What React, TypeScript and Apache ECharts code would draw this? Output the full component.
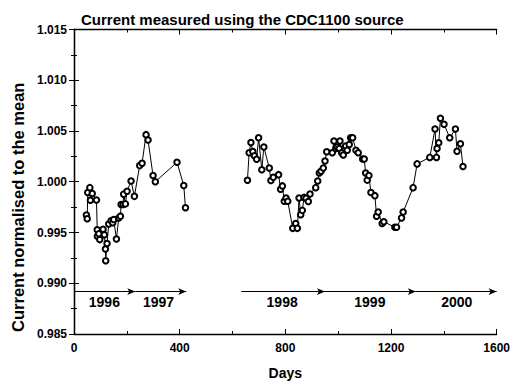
import React, { useEffect, useRef } from "react";
import * as echarts from "echarts";

const titleText = "Current measured using the CDC1100 source";
const xTitle = "Days";
const yTitle = "Current normalised to the mean";

const days9697 = [47, 50, 52, 60, 62, 69, 85, 88, 88.5, 94, 97.5, 110, 115, 119, 120, 125, 131.5, 140.5, 146.6, 150.4, 160.6, 169.3, 175.7, 178.3, 186, 188, 194.6, 201, 216, 228.6, 248.6, 257.7, 272.8, 280.3, 299.2, 307.9, 389.9, 415.6, 422];
const vals9697 = [0.99673, 0.99635, 0.99894, 0.99942, 0.99817, 0.99885, 0.9982, 0.99526, 0.99462, 0.99488, 0.9943, 0.99532, 0.99478, 0.99337, 0.99221, 0.99391, 0.99584, 0.99615, 0.99596, 0.99628, 0.99436, 0.99644, 0.99661, 0.99776, 0.99776, 0.99878, 0.99782, 0.99907, 1.00007, 0.99856, 1.00159, 1.00183, 1.00464, 1.00411, 1.00061, 1.0, 1.00192, 0.99962, 0.99743];

const days9800 = [656.6, 663, 669.8, 677, 683, 691.4, 698.9, 711, 718.6, 739.3, 745.4, 754.4, 774.5, 782, 788.8, 796, 802.8, 809.2, 828.1, 839.4, 845.5, 851.9, 858.3, 864.4, 870.8, 878.3, 887, 893.5, 915, 922.6, 928.6, 935, 943.8, 950.2, 956.6, 977.7, 984.2, 991.7, 996.6, 1004.2, 1006.8, 1013.3, 1019.3, 1028.4, 1034.4, 1042, 1047.3, 1054.8, 1067.3, 1076, 1092.6, 1098.7, 1104, 1110, 1116.4, 1124, 1139, 1145.5, 1151.5, 1166.6, 1173, 1214.6, 1221, 1239.9, 1246, 1283.7, 1298.9, 1346.8, 1366.8, 1372.1, 1374.4, 1380.8, 1387.2, 1400.8, 1422.3, 1443.9, 1450, 1462.8, 1472.6];
const vals9800 = [1.00014, 1.00286, 1.00387, 1.00298, 1.00257, 1.00221, 1.00433, 1.00118, 1.00343, 1.00135, 1.00013, 1.00045, 1.0007, 0.99926, 0.99959, 0.99808, 0.99839, 0.99808, 0.99541, 0.99589, 0.99541, 0.99839, 0.99676, 0.99718, 0.99846, 0.99837, 0.99805, 0.9988, 0.99942, 1.00007, 1.00087, 1.00103, 1.00135, 1.00205, 1.00295, 1.00286, 1.00401, 1.00327, 1.00343, 1.00327, 1.00401, 1.00286, 1.00263, 1.00353, 1.00311, 1.00368, 1.00433, 1.00433, 1.00311, 1.00286, 1.00224, 1.00224, 1.00087, 1.00016, 1.00061, 0.99894, 0.99863, 0.99661, 0.99702, 0.99589, 0.99606, 0.99551, 0.99551, 0.99644, 0.99702, 0.99942, 1.00176, 1.0024, 1.00519, 1.0024, 1.00327, 1.00385, 1.00625, 1.00567, 1.00433, 1.00519, 1.00301, 1.00375, 1.00151];

const yearNames = ["1996", "1997", "1998", "1999", "2000"];
const yearStart = [0, 232, 633, 950, 1294];
const yearEnd = [232, 425, 950, 1294, 1600];
const yearLabelDay = [115, 320, 788, 1120, 1449];
const arrowLevel = 0.98918;
const yearLabelLevel = 0.98811;

const FONT = "'Liberation Sans', Arial, Helvetica, sans-serif";

export default function App() {
  const ref = useRef<HTMLDivElement>(null);
  useEffect(() => {
    document.body.style.margin = "0";
    if (!ref.current) return;
    const chart = echarts.init(ref.current, null, { renderer: "svg" });
    const zip = (xs: number[], ys: number[]) => xs.map((x, i) => [x, ys[i]]);
    const axisCommon = {
      axisLine: { show: true, lineStyle: { color: "#000", width: 1.3 } },
      axisTick: { show: true, inside: true, length: 5, lineStyle: { color: "#000", width: 1 } },
      minorTick: { show: true, splitNumber: 2, length: 3, lineStyle: { color: "#000", width: 1 } },
      splitLine: { show: false },
    };
    const lineSeries = (d: number[][]) => ({
      type: "line",
      data: d,
      symbol: "emptyCircle",
      symbolSize: 5.5,
      showSymbol: true,
      showAllSymbol: true,
      lineStyle: { color: "#000", width: 1 },
      itemStyle: { color: "#000", borderColor: "#000", borderWidth: 0.8 },
      z: 3,
    });
    chart.setOption({
      animation: false,
      textStyle: { fontFamily: FONT },
      title: {
        text: titleText,
        left: 76,
        top: 7,
        textStyle: { fontSize: 15, fontWeight: "bold", color: "#000", fontFamily: FONT },
      },
      grid: { left: 74, right: 16, top: 29.5, bottom: 45.5, containLabel: false },
      xAxis: [
        {
          type: "value",
          min: 0,
          max: 1600,
          interval: 400,
          position: "bottom",
          ...axisCommon,
          axisLabel: {
            color: "#000",
            fontSize: 12,
            fontWeight: "bold",
            margin: 8,
            fontFamily: FONT,
            formatter: (v: number) => String(v),
          },
          name: xTitle,
          nameLocation: "middle",
          nameGap: 32,
          nameTextStyle: { fontSize: 14, fontWeight: "bold", color: "#000", fontFamily: FONT },
        },
        {
          type: "value",
          min: 0,
          max: 1600,
          interval: 400,
          position: "top",
          ...axisCommon,
          axisLabel: { show: false },
        },
      ],
      yAxis: [
        {
          type: "value",
          min: 0.985,
          max: 1.015,
          interval: 0.005,
          position: "left",
          ...axisCommon,
          axisLabel: {
            color: "#000",
            fontSize: 12,
            fontWeight: "bold",
            margin: 7,
            fontFamily: FONT,
            formatter: (v: number) => v.toFixed(3),
          },
          name: yTitle,
          nameLocation: "middle",
          nameGap: 47,
          nameRotate: 90,
          nameTextStyle: {
            fontSize: 16.5,
            fontWeight: "bold",
            color: "#000",
            fontFamily: FONT,
            padding: [0, 51, 0, 0],
          },
        },
        {
          type: "value",
          min: 0.985,
          max: 1.015,
          interval: 0.005,
          position: "right",
          ...axisCommon,
          axisLabel: { show: false },
        },
      ],
      series: [
        lineSeries(zip(days9697, vals9697)),
        lineSeries(zip(days9800, vals9800)),
        {
          type: "scatter",
          symbolSize: 0,
          itemStyle: { opacity: 1, color: "#000" },
          data: yearNames.map((n, i) => ({ name: n, value: [yearLabelDay[i], yearLabelLevel] })),
          label: {
            show: true,
            position: [0, 0],
            align: "center",
            verticalAlign: "middle",
            formatter: (p: any) => p.name,
            color: "#000",
            opacity: 1,
            textBorderWidth: 0,
            fontSize: 14,
            fontWeight: "bold",
            fontFamily: FONT,
          },
          markLine: {
            silent: true,
            symbol: ["none", "arrow"],
            symbolSize: [5, 8],
            label: { show: false },
            lineStyle: { color: "#000", width: 1, type: "solid", opacity: 1 },
            data: yearNames.map((_, i) => [
              { coord: [yearStart[i], arrowLevel] },
              { coord: [yearEnd[i], arrowLevel] },
            ]),
          },
        },
      ],
    });
    return () => chart.dispose();
  }, []);
  return <div ref={ref} style={{ width: 513, height: 385 }} />;
}
